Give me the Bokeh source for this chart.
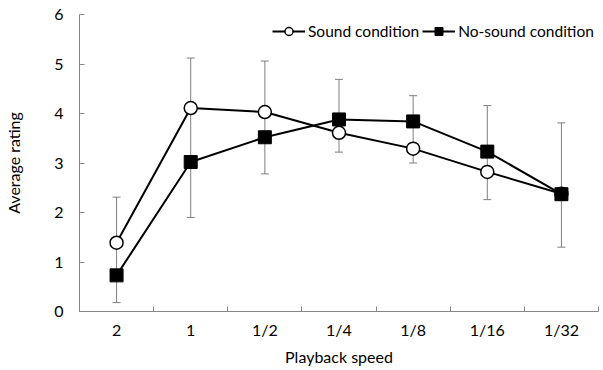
from bokeh.plotting import figure
from bokeh.models import (Range1d, FixedTicker, Whisker, TeeHead, ColumnDataSource,
                          Legend, LegendItem)
from bokeh.embed import file_html
from bokeh.resources import INLINE

# ---- data ----
categories = ["2", "1", "1/2", "1/4", "1/8", "1/16", "1/32"]
sound = [1.39, 4.11, 4.03, 3.61, 3.29, 2.82, 2.38]
nosound = [0.73, 3.02, 3.52, 3.88, 3.84, 3.23, 2.37]
err_upper = [2.31, 5.12, 5.06, 4.69, 4.36, 4.16, 3.81]
err_lower = [0.18, 1.90, 2.78, 3.22, 3.00, 2.26, 1.30]
y_ticks = [0, 1, 2, 3, 4, 5, 6]

FONT = "Lato"
FS = "16px"
GRAY = "#868686"

n = len(categories)
xpos = [i + 0.5 for i in range(n)]

p = figure(width=603, height=370, output_backend="svg", toolbar_location=None,
           x_range=Range1d(0, n), y_range=Range1d(0, 6),
           min_border_left=79, min_border_right=5, min_border_top=14, min_border_bottom=59)
p.outline_line_color = None
p.xgrid.visible = False
p.ygrid.visible = False
p.background_fill_color = "white"
p.border_fill_color = "white"

# x axis
xa = p.xaxis[0]
xa.ticker = FixedTicker(ticks=xpos, minor_ticks=list(range(n + 1)))
xa.major_label_overrides = {x: c for x, c in zip(xpos, categories)}
xa.major_tick_in = 0
xa.major_tick_out = 0
xa.minor_tick_in = 5
xa.minor_tick_out = 0
xa.axis_line_color = GRAY
xa.minor_tick_line_color = GRAY
xa.major_label_standoff = 8
xa.axis_label = "Playback speed"
xa.axis_label_standoff = 5

# y axis
ya = p.yaxis[0]
ya.ticker = FixedTicker(ticks=y_ticks, minor_ticks=[])
ya.major_tick_in = 5
ya.major_tick_out = 0
ya.minor_tick_in = 0
ya.minor_tick_out = 0
ya.axis_line_color = GRAY
ya.major_tick_line_color = GRAY
ya.major_label_standoff = 16
ya.axis_label = "Average rating"
ya.axis_label_standoff = 28

for ax in (xa, ya):
    ax.major_label_text_font = FONT
    ax.major_label_text_font_size = FS
    ax.major_label_text_color = "black"
    ax.axis_label_text_font = FONT
    ax.axis_label_text_font_size = FS
    ax.axis_label_text_font_style = "normal"
    ax.axis_label_text_color = "black"

src = ColumnDataSource(dict(x=xpos, sound=sound, nosound=nosound,
                            upper=err_upper, lower=err_lower))

w = Whisker(base="x", upper="upper", lower="lower", source=src,
            line_color="#7f7f7f", line_width=1,
            upper_head=TeeHead(size=8, line_color="#7f7f7f", line_width=1),
            lower_head=TeeHead(size=8, line_color="#7f7f7f", line_width=1))
p.add_layout(w)

l1 = p.line("x", "sound", source=src, line_color="black", line_width=2)
m1 = p.scatter("x", "sound", source=src, marker="circle", size=13,
               fill_color="white", line_color="black", line_width=1.5)
l2 = p.line("x", "nosound", source=src, line_color="black", line_width=2)
m2 = p.scatter("x", "nosound", source=src, marker="square", size=13,
               fill_color="black", line_color="black", line_width=1)

legend = Legend(items=[LegendItem(label="Sound condition", renderers=[l1, m1]),
                       LegendItem(label="No-sound condition", renderers=[l2, m2])],
                orientation="horizontal", location=(193, 270),
                padding=0, margin=0, spacing=3, glyph_width=33, glyph_height=20,
                label_standoff=3, label_text_font=FONT, label_text_font_size="15.5px",
                label_text_color="black", border_line_color=None,
                background_fill_alpha=0)
p.add_layout(legend)

open("out.html", "w").write(file_html(p, INLINE))
